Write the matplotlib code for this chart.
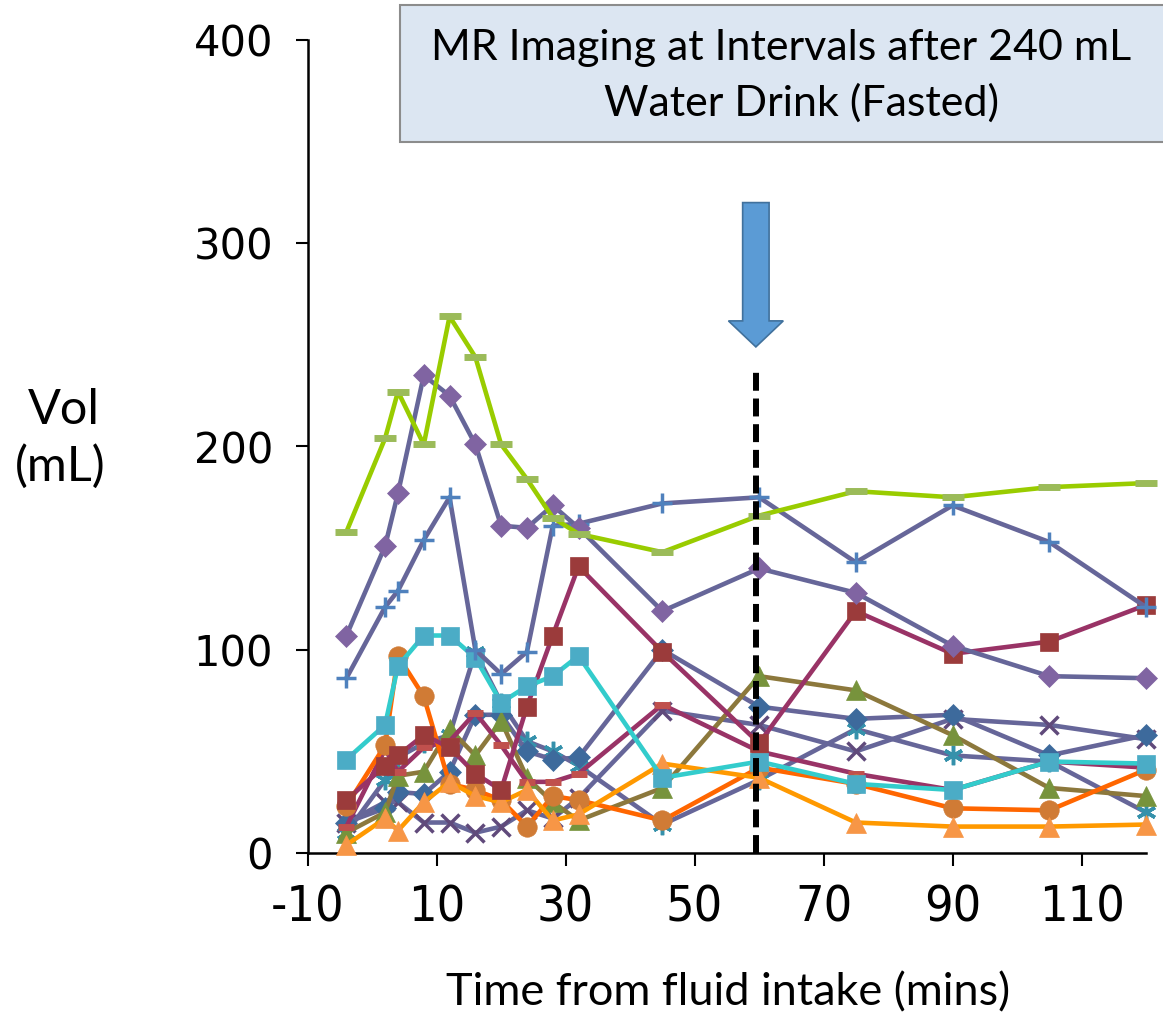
import matplotlib
matplotlib.use("Agg")
import matplotlib.pyplot as plt
from matplotlib.patches import Rectangle, FancyArrow

plt.rcParams["axes.unicode_minus"] = False

# ---- data ----
times = [-4, 2, 4, 8, 12, 16, 20, 24, 28, 32, 45, 60, 75, 90, 105, 120]
lime_dash = [158, 204, 227, 201, 264, 244, 201, 184, 165, 157, 148, 166, 178, 175, 180, 182]
purple_diamond = [107, 151, 177, 235, 225, 201, 161, 160, 171, 160, 119, 140, 128, 102, 87, 86]
blue_plus = [86, 121, 129, 154, 175, 100, 88, 99, 161, 162, 172, 175, 143, 171, 153, 121]
red_square = [26, 43, 48, 58, 52, 39, 31, 72, 107, 141, 99, 54, 119, 98, 104, 122]
cyan_square = [46, 63, 92, 107, 107, 96, 74, 82, 87, 97, 37, 45, 34, 31, 45, 44]
orange_circle = [23, 53, 97, 77, 34, 31, 26, 13, 28, 26, 16, 42, 34, 22, 21, 41]
orange_triangle = [4, 17, 11, 25, 35, 28, 25, 31, 16, 19, 44, 37, 15, 13, 13, 14]
green_triangle = [10, 20, 38, 40, 61, 48, 65, 37, 25, 16, 32, 87, 80, 58, 32, 28]
blue_diamond = [15, 22, 30, 29, 40, 68, 68, 50, 46, 47, 100, 72, 66, 68, 48, 58]
purple_x = [15, 25, 25, 15, 15, 10, 13, 21, 17, 27, 70, 63, 50, 66, 63, 56]
teal_star = [10, 36, 47, 54, 58, 99, 74, 55, 50, 43, 14, 36, 61, 48, 45, 20]
red_dash = [13, 51, 40, 52, 55, 69, 53, 35, 35, 39, 73, 50, 39, 31, 45, 42]

x_ticks = [-10, 10, 30, 50, 70, 90, 110]
y_ticks = [0, 100, 200, 300, 400]
title_lines = ["MR Imaging at Intervals after 240 mL", "Water Drink (Fasted)"]
x_label = "Time from fluid intake (mins)"
y_label_lines = ["Vol", "(mL)"]

# annotation positions
dash_x = 59.5
dash_top = 237
arrow_x = 59.5
arrow_top = 320
arrow_tip = 249

SLATE = "#666699"
MAROON = "#993366"

series = [
    # values, line color, marker, marker color, marker size, filled
    (purple_x, SLATE, "x", "#604a7b", 13, False),
    (teal_star, SLATE, (6, 2, 0), "#3591ab", 14, False),
    (blue_diamond, SLATE, "D", "#3d6a9c", 11, True),
    (green_triangle, "#8c783c", "^", "#77933c", 14, True),
    (red_dash, MAROON, "_", "#c0504d", 12, False),
    (orange_circle, "#ff6600", "o", "#d07b35", 14, True),
    (orange_triangle, "#ff9900", "^", "#f79646", 14, True),
    (red_square, MAROON, "s", "#9b3b3b", 13, True),
    (cyan_square, "#33cccc", "s", "#4bacc6", 13, True),
    (blue_plus, SLATE, "+", "#4f81bd", 15, False),
    (purple_diamond, SLATE, "D", "#8064a2", 11, True),
    (lime_dash, "#99cc00", "_", "#9bbb59", 16, False),
]

fig = plt.figure(figsize=(11.63, 10.16), dpi=100)
ax = fig.add_axes([307.7 / 1163, 163 / 1016, (1146 - 307.7) / 1163, (853 - 40) / 1016])

for vals, lc, mk, mc, ms, filled in series:
    if filled:
        ax.plot(times, vals, color=lc, lw=3.3, marker=mk, markersize=ms,
                markerfacecolor=mc, markeredgecolor=mc, markeredgewidth=0.5,
                clip_on=False, zorder=3)
    else:
        ax.plot(times, vals, color=lc, lw=3.3, marker=mk, markersize=ms,
                markeredgecolor=mc, markeredgewidth=2.5 if mk != "_" else 5,
                clip_on=False, zorder=3)

# dashed vertical line
ax.plot([dash_x, dash_x], [0, dash_top], color="black", lw=4.3,
        dashes=(3.0, 1.3), zorder=5, clip_on=False)

# blue arrow
ax.add_patch(FancyArrow(arrow_x, arrow_top, 0, arrow_tip - arrow_top,
                        width=4.1, head_width=8.5, head_length=12.8,
                        length_includes_head=True, facecolor="#5b9bd5",
                        edgecolor="#41719c", lw=1.2, zorder=6, clip_on=False))

ax.set_xlim(-10, 120)
ax.set_ylim(0, 400)
ax.set_xticks(x_ticks)
ax.set_yticks(y_ticks)
for s in ["top", "right"]:
    ax.spines[s].set_visible(False)
for s in ["left", "bottom"]:
    ax.spines[s].set_linewidth(1.8)
ax.tick_params(axis="both", direction="out", length=9, width=1.5)
ax.tick_params(axis="y", pad=16, labelsize=30)
ax.tick_params(axis="x", pad=13, labelsize=36)
for lab in ax.get_yticklabels():
    lab.set_family("DejaVu Sans")
for lab in ax.get_xticklabels():
    lab.set_family(["DejaVu Sans"])
    lab.set_stretch("condensed")

# x label
fig.text(728 / 1163, 1 - 993 / 1016, x_label, ha="center", va="center",
         fontsize=32.5, family=["Lato", "DejaVu Sans"])
# y label
fig.text(64 / 1163, 1 - 410 / 1016, y_label_lines[0], ha="center", va="center",
         fontsize=35, family=["Lato", "DejaVu Sans"])
fig.text(60 / 1163, 1 - 466 / 1016, y_label_lines[1], ha="center", va="center",
         fontsize=35, family=["Lato", "DejaVu Sans"])

# title box
fig.patches.append(Rectangle((400 / 1163, 1 - 142 / 1016), 0.7, 137 / 1016,
                             transform=fig.transFigure, facecolor="#dce6f2",
                             edgecolor="#8c8c8c", lw=1.5, zorder=0))
fig.text(781 / 1163, 1 - 48 / 1016, title_lines[0], ha="center", va="center",
         fontsize=31, family=["Lato", "DejaVu Sans"])
fig.text(801 / 1163, 1 - 103 / 1016, title_lines[1], ha="center", va="center",
         fontsize=31, family=["Lato", "DejaVu Sans"])

fig.savefig("out.png", dpi=100)
